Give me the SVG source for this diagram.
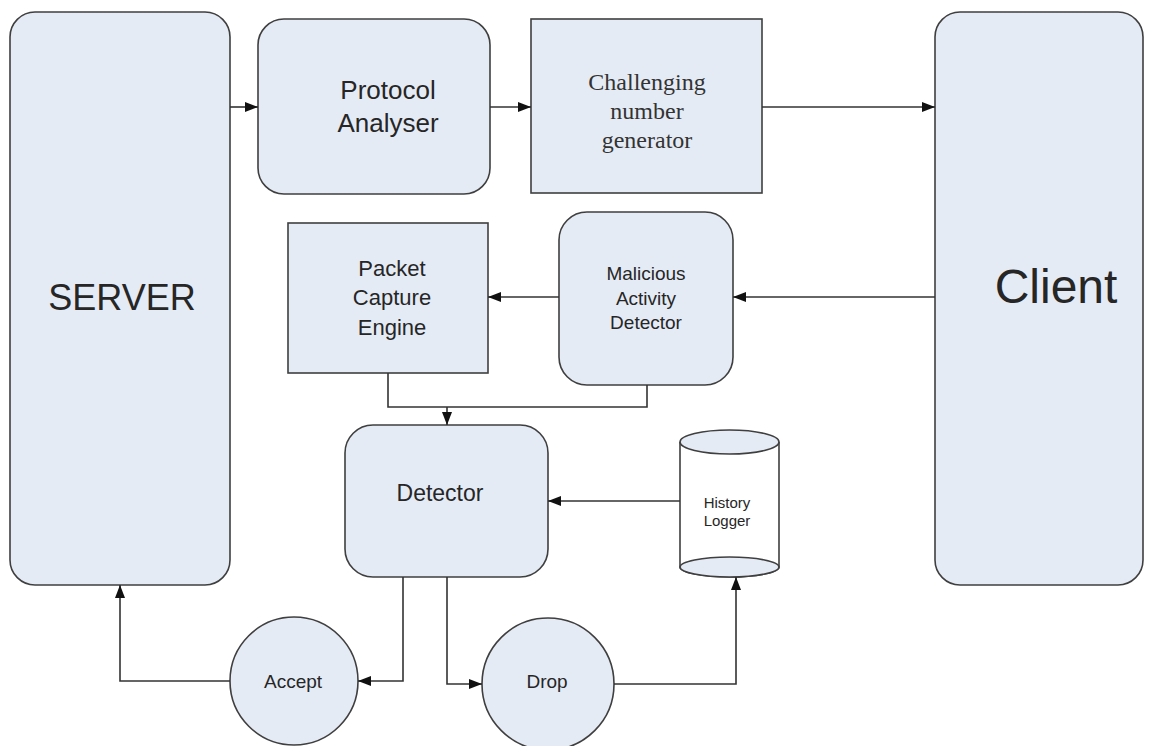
<svg xmlns="http://www.w3.org/2000/svg" width="1153" height="746" viewBox="0 0 1153 746">
<defs>
<marker id="ah" markerUnits="userSpaceOnUse" markerWidth="14" markerHeight="11" refX="13" refY="5" orient="auto">
<path d="M0,0 L13,5 L0,10 z" fill="#111"/>
</marker>
<style>
.box{fill:#E5EBF5;stroke:#3f3f3f;stroke-width:1.6}
.cyl{fill:#ffffff;stroke:#3f3f3f;stroke-width:1.6}
.sans{font-family:"Liberation Sans",Arial,sans-serif;fill:#262626;text-anchor:middle;dominant-baseline:central}
.serif{font-family:"Liberation Serif","Times New Roman",serif;fill:#333;text-anchor:middle;dominant-baseline:central}
.ln{fill:none;stroke:#333;stroke-width:1.6}
</style>
</defs>
<rect width="1153" height="746" fill="#ffffff"/>

<g id="server">
<rect class="box" x="10" y="12" width="220" height="573" rx="25"/>
<text class="sans" x="122" y="297" font-size="36">SERVER</text>
</g>
<g id="protocol-analyser">
<rect class="box" x="258" y="19" width="232" height="175" rx="26"/>
<text class="sans" x="388" y="90" font-size="26">Protocol</text>
<text class="sans" x="388" y="123" font-size="26">Analyser</text>
</g>
<g id="challenging-number-generator">
<rect class="box" x="531" y="19" width="231" height="174"/>
<text class="serif" x="647" y="82" font-size="24">Challenging</text>
<text class="serif" x="647" y="111" font-size="24">number</text>
<text class="serif" x="647" y="140" font-size="24">generator</text>
</g>
<g id="client">
<rect class="box" x="935" y="12" width="208" height="573" rx="25"/>
<text class="sans" x="1056" y="286" font-size="48">Client</text>
</g>
<g id="packet-capture-engine">
<rect class="box" x="288" y="223" width="200" height="150"/>
<text class="sans" x="392" y="268" font-size="22">Packet</text>
<text class="sans" x="392" y="297" font-size="22">Capture</text>
<text class="sans" x="392" y="327" font-size="22">Engine</text>
</g>
<g id="malicious-activity-detector">
<rect class="box" x="559" y="212" width="174" height="173" rx="28"/>
<text class="sans" x="646" y="273" font-size="19">Malicious</text>
<text class="sans" x="646" y="298" font-size="19">Activity</text>
<text class="sans" x="646" y="322" font-size="19">Detector</text>
</g>
<g id="detector">
<rect class="box" x="345" y="425" width="203" height="152" rx="28"/>
<text class="sans" x="440" y="493" font-size="23">Detector</text>
</g>
<g id="history-logger">
<path class="cyl" d="M680,442 L680,567 A49.5,10 0 0 0 779,567 L779,442"/>
<ellipse class="box" cx="729.5" cy="442" rx="49.5" ry="12"/>
<ellipse class="box" cx="729.5" cy="567" rx="49.5" ry="10"/>
<text class="sans" x="727" y="502" font-size="15">History</text>
<text class="sans" x="727" y="520" font-size="15">Logger</text>
</g>
<g id="accept">
<circle class="box" cx="294" cy="681" r="64"/>
<text class="sans" x="293" y="681" font-size="19">Accept</text>
</g>
<g id="drop">
<circle class="box" cx="548" cy="684" r="66"/>
<text class="sans" x="547" y="681" font-size="19">Drop</text>
</g>

<g id="connectors">
<path class="ln" d="M230,107 L258,107" marker-end="url(#ah)"/>
<path class="ln" d="M490,107 L531,107" marker-end="url(#ah)"/>
<path class="ln" d="M762,107 L935,107" marker-end="url(#ah)"/>
<path class="ln" d="M935,297 L733,297" marker-end="url(#ah)"/>
<path class="ln" d="M559,297 L488,297" marker-end="url(#ah)"/>
<path class="ln" d="M388,373 L388,407 L647,407 L647,385"/>
<path class="ln" d="M447,407 L447,425" marker-end="url(#ah)"/>
<path class="ln" d="M680,501 L548,501" marker-end="url(#ah)"/>
<path class="ln" d="M403,577 L403,681 L358,681" marker-end="url(#ah)"/>
<path class="ln" d="M447,577 L447,684 L482,684" marker-end="url(#ah)"/>
<path class="ln" d="M614,684 L736,684 L736,577" marker-end="url(#ah)"/>
<path class="ln" d="M230,681 L120,681 L120,585" marker-end="url(#ah)"/>
</g>
</svg>
